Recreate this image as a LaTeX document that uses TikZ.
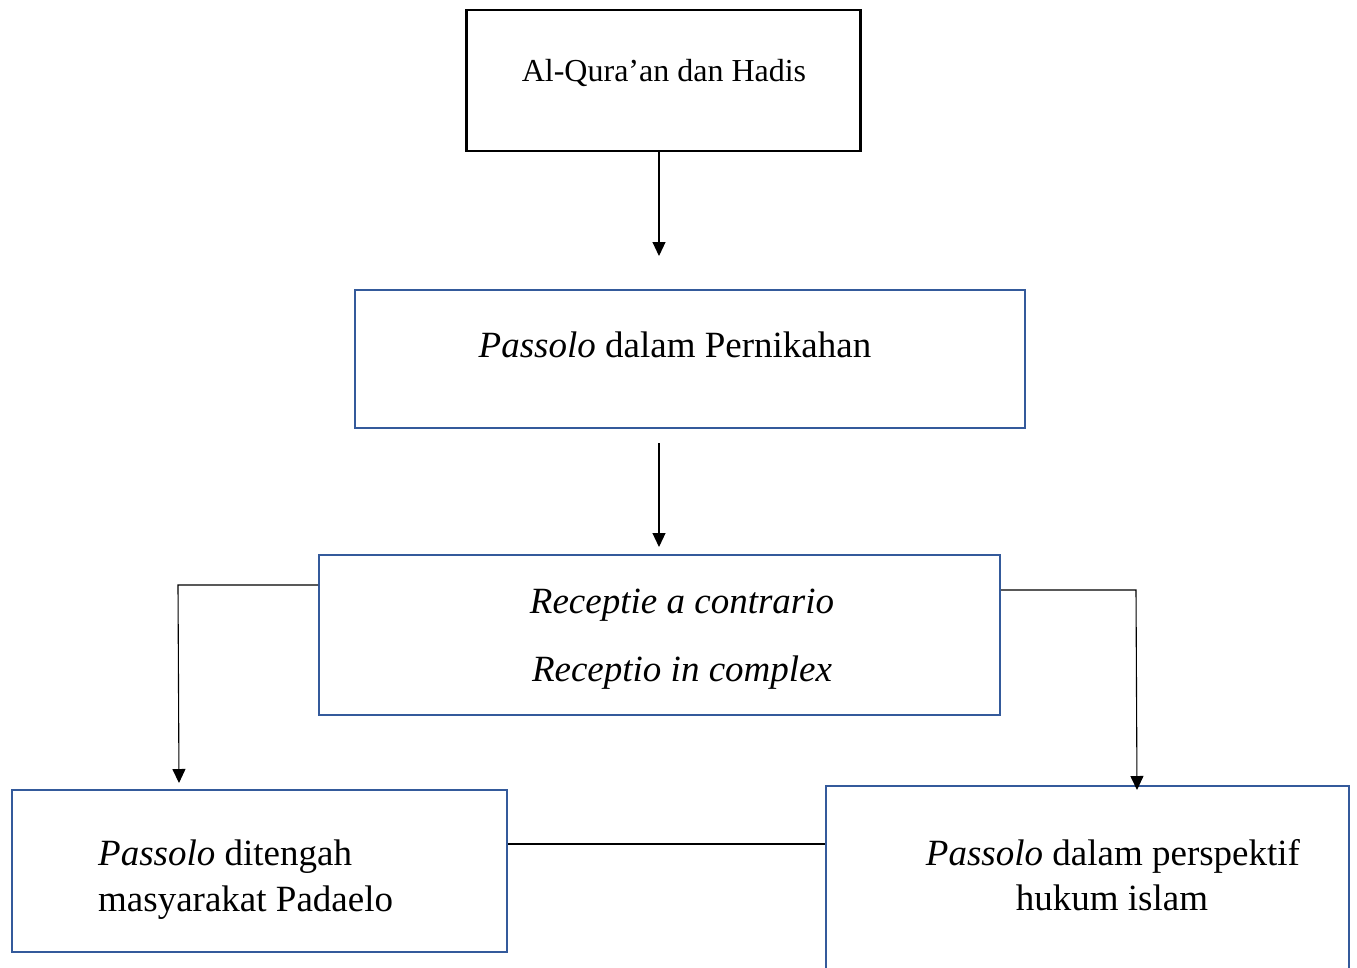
\documentclass[tikz,border=0pt]{standalone}
\usepackage{fontspec}
\setmainfont{Liberation Serif}
\usetikzlibrary{arrows.meta}
\definecolor{boxblue}{RGB}{52,90,155}
\tikzset{
  bluebox/.style={draw=boxblue,line width=2pt,rectangle,inner sep=0pt},
  blackbox/.style={draw=black,line width=2.5pt,rectangle,inner sep=0pt},
  conn/.style={draw=black,line width=1.1pt},
  arr/.style={conn,-{Triangle[length=14pt,width=13pt]}},
  txt/.style={inner sep=0pt,anchor=base,font=\fontsize{37}{46}\selectfont},
  txtsmall/.style={inner sep=0pt,anchor=base,font=\fontsize{32}{40}\selectfont}
}
\begin{document}
\begin{tikzpicture}[x=1pt,y=-1pt]
\useasboundingbox (0,0) rectangle (1357,967);
\clip (0,0) rectangle (1357,967);
\fill[white] (0,0) rectangle (1357,967);
% boxes
\node[blackbox,minimum width=394pt,minimum height=141pt] (b1) at (663.5,80.5) {};
\node[bluebox,minimum width=670pt,minimum height=138pt] (b2) at (690,359) {};
\node[bluebox,minimum width=681pt,minimum height=160pt] (b3) at (659.5,635) {};
\node[bluebox,minimum width=495pt,minimum height=162pt] (b4) at (259.5,871) {};
\node[bluebox,minimum width=523pt,minimum height=230pt] (b5) at (1087.5,901) {};
% texts
\node[txtsmall] (t1) at (664,81) {Al-Qura’an dan Hadis};
\node[txt] (t2) at (675,357) {\textit{Passolo} dalam Pernikahan};
\node[txt] (t3a) at (682,613) {\textit{Receptie a contrario}};
\node[txt] (t3b) at (682,681) {\textit{Receptio in complex}};
\node[txt,anchor=base west] (t4a) at (98,865) {\textit{Passolo} ditengah};
\node[txt,anchor=base west] (t4b) at (98,911) {masyarakat Padaelo};
\node[txt] (t5a) at (1113,865) {\textit{Passolo} dalam perspektif};
\node[txt] (t5b) at (1112,910) {hukum islam};
% connectors
\coordinate (a2s) at (659,443);
\coordinate (lc) at (178,585);
\coordinate (rc) at (1136,590);
\draw[arr] (b1.south -| 659,0) -- (659,256);
\draw[arr] (a2s) -- (659,547);
\draw[arr] (b3.west |- lc) -- (lc) -- (179,783);
\draw[arr] (b3.east |- rc) -- (rc) -- (1137,790);
\draw[conn] (b4.east |- 0,844) -- (b5.west |- 0,844);
\end{tikzpicture}
\end{document}
